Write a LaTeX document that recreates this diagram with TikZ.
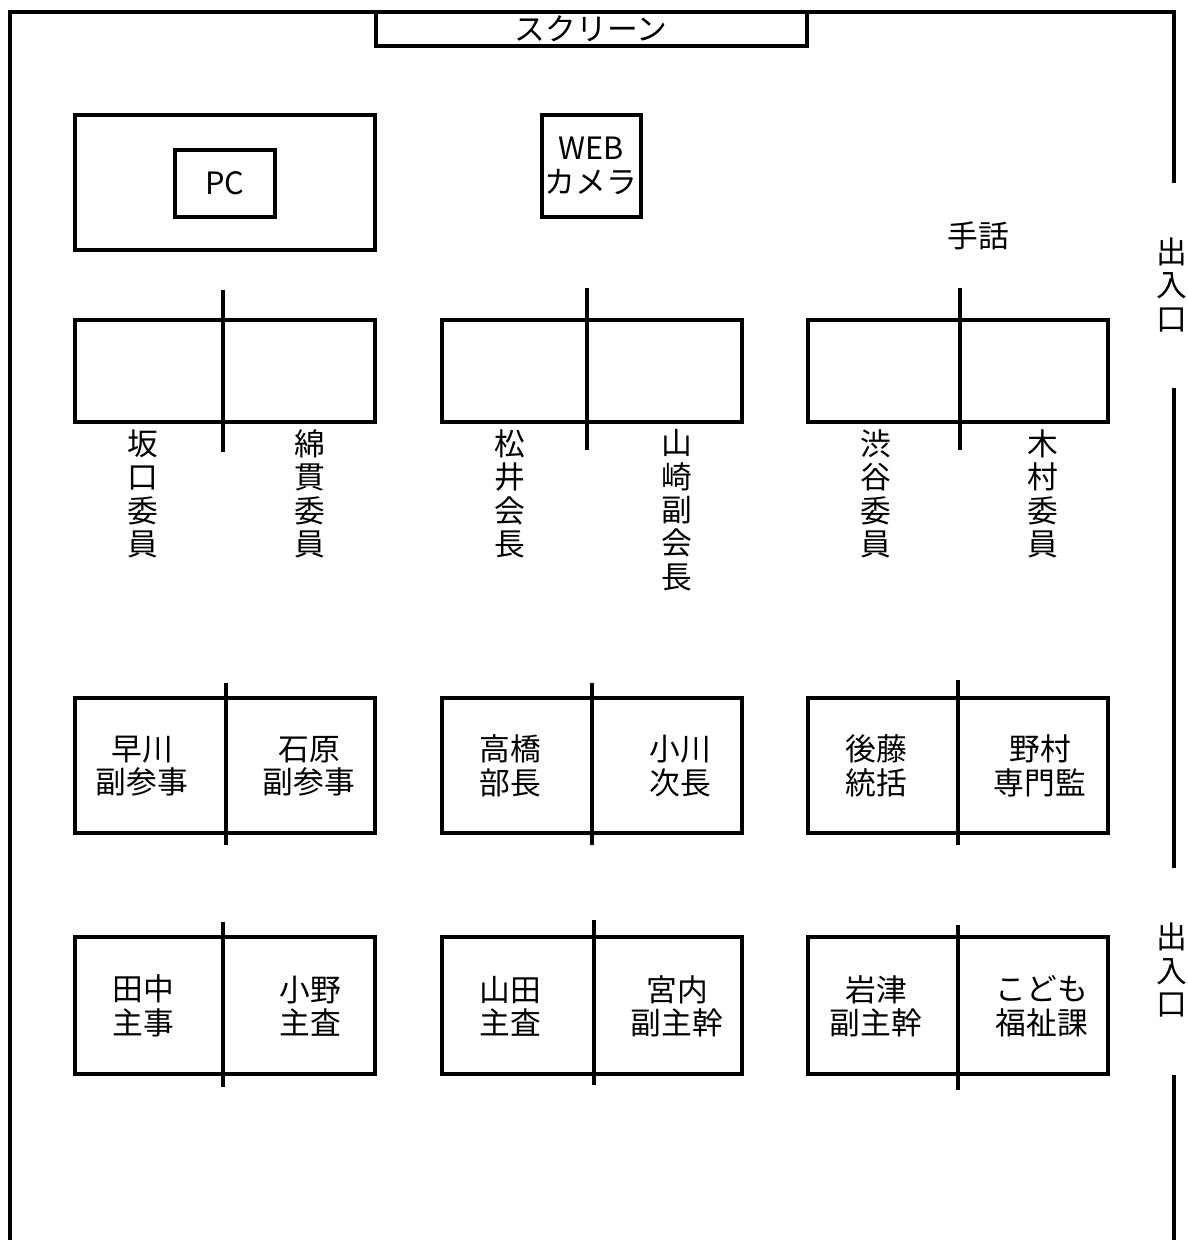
\documentclass[tikz,border=0pt]{standalone}
\usepackage{fontspec}
\setmainfont{Noto Sans CJK JP}
\usepackage{tikz}

\begin{document}
\begin{tikzpicture}[x=0.02cm,y=-0.02cm,line width=1.8pt,
    label/.style={font=\fontsize{17.5}{19}\selectfont,align=center,inner sep=0pt},
    seatline/.style={line width=2.2pt}]
            \useasboundingbox (0,0) rectangle (1187,1240);
            % walls
            \draw[black] (10,1240) -- (10,12) -- (1174,12) -- (1174,183);
            \draw[black] (1174,388) -- (1174,868);
            \draw[black] (1174,1075) -- (1174,1240);
            \node[label] (door1) at (1172,285) {出\\入\\口};
            \node[label] (door2) at (1172,970) {出\\入\\口};
            % screen
            \draw[black] (376,12) -- (376,46) -- (807,46) -- (807,12);
            \node[label] (screen) at (591,29) {スクリーン};
            % front
            \draw[black] (75,115) rectangle (375,250);
            \draw[black] (175,150) rectangle (275,217);
            \node[label] (pc) at (225,183) {PC};
            \draw[black] (542,115) rectangle (641,217);
            \node[label] (camera) at (591,166) {WEB\\カメラ};
            \node[label] (sign) at (978,236) {手話};
            % row 1
            \draw[black] (75,320) rectangle (375,422);
            \draw[seatline] (223,290) -- (223,452);
            \draw[black] (442,320) rectangle (742,422);
            \draw[seatline] (587,288) -- (587,450);
            \draw[black] (808,320) rectangle (1108,422);
            \draw[seatline] (960,288) -- (960,450);
            \node[label,anchor=north] (sakaguchi) at (143,428) {坂\\口\\委\\員};
            \node[label,anchor=north] (watanuki) at (310,428) {綿\\貫\\委\\員};
            \node[label,anchor=north] (matsui) at (510,428) {松\\井\\会\\長};
            \node[label,anchor=north] (yamazaki) at (677,428) {山\\崎\\副\\会\\長};
            \node[label,anchor=north] (shibuya) at (876,428) {渋\\谷\\委\\員};
            \node[label,anchor=north] (kimura) at (1043,428) {木\\村\\委\\員};
            % row 2
            \draw[black] (75,698) rectangle (375,833);
            \draw[seatline] (226,683) -- (226,845);
            \draw[black] (442,698) rectangle (742,833);
            \draw[seatline] (592,683) -- (592,845);
            \draw[black] (808,698) rectangle (1108,833);
            \draw[seatline] (958,680) -- (958,845);
            \node[label] (hayakawa) at (142,766) {早川\\副参事};
            \node[label] (ishihara) at (309,766) {石原\\副参事};
            \node[label] (takahashi) at (510,766) {高橋\\部長};
            \node[label] (ogawa) at (680,766) {小川\\次長};
            \node[label] (goto) at (876,766) {後藤\\統括};
            \node[label] (nomura) at (1040,766) {野村\\専門監};
            % row 3
            \draw[black] (75,937) rectangle (375,1074);
            \draw[seatline] (223,922) -- (223,1087);
            \draw[black] (442,937) rectangle (742,1074);
            \draw[seatline] (594,920) -- (594,1085);
            \draw[black] (808,937) rectangle (1108,1074);
            \draw[seatline] (958,925) -- (958,1090);
            \node[label] (tanaka) at (143,1006) {田中\\主事};
            \node[label] (ono) at (310,1006) {小野\\主査};
            \node[label] (yamada) at (510,1006) {山田\\主査};
            \node[label] (miyauchi) at (677,1006) {宮内\\副主幹};
            \node[label] (iwatsu) at (876,1006) {岩津\\副主幹};
            \node[label] (kodomo) at (1042,1006) {こども\\福祉課};
        \end{tikzpicture}
\end{document}
